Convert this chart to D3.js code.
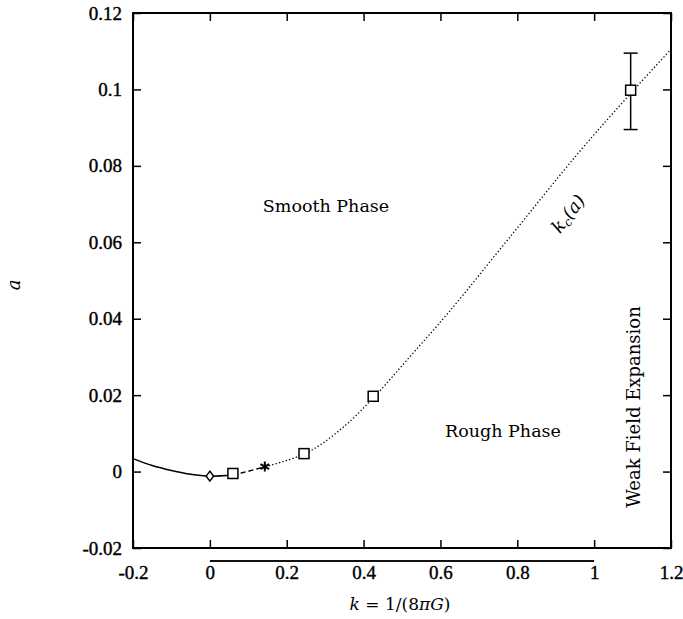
<!DOCTYPE html>
<html>
<head>
<meta charset="utf-8">
<script src="https://cdn.jsdelivr.net/npm/d3@7"></script>
<style>
  body { margin: 0; background: #fff; }
  svg text { font-family: "DejaVu Serif", "Liberation Serif"; fill: #000; }
</style>
</head>
<body>
<div id="container"></div>
<script>
// data
const xTicks = [-0.2, 0, 0.2, 0.4, 0.6, 0.8, 1, 1.2];
const yTicks = [-0.02, 0, 0.02, 0.04, 0.06, 0.08, 0.1, 0.12];

// k_c(a) curve, split by line style
const solidK = [-0.2, -0.15, -0.1, -0.05, 0, 0.06];
const solidA = [0.0034, 0.0016, 0.0003, -0.0007, -0.0012, -0.0009];
const dashedK = [0.06, 0.1, 0.145];
const dashedA = [-0.0009, 0.0001, 0.0013];
const dottedK = [0.145, 0.25, 0.34, 0.43, 0.52, 0.62, 0.79, 0.96, 1.1, 1.2];
const dottedA = [0.0013, 0.0048, 0.011, 0.0198, 0.03, 0.0415, 0.0625, 0.0835, 0.0995, 0.1105];

// measured points
const squareK = [0.06, 0.245, 0.425, 1.095];
const squareA = [-0.0005, 0.0047, 0.0197, 0.0998];
const diamondK = [0];
const diamondA = [-0.0012];
const starK = [0.143];
const starA = [0.0013];
const errK = [1.095];
const errLo = [0.0895];
const errHi = [0.1095];

const margin = {top: 13, right: 12, bottom: 71, left: 133};
const W = 683, H = 619;
const width = W - margin.left - margin.right,
      height = H - margin.top - margin.bottom;

const svg = d3.select("#container").append("svg")
    .attr("width", W).attr("height", H);
const g = svg.append("g").attr("transform", `translate(${margin.left},${margin.top})`);

const x = d3.scaleLinear().domain([-0.2, 1.2]).range([0, width]);
const y = d3.scaleLinear().domain([-0.02, 0.12]).range([height, 0]);

const fmt = d => d === 0 ? "0" : String(+d.toFixed(2));

// axes, ticks pointing inwards
const xb = g.append("g").attr("transform", `translate(0,${height})`)
    .call(d3.axisBottom(x).tickValues(xTicks).tickSize(-8).tickPadding(18).tickFormat(fmt));
const xt = g.append("g")
    .call(d3.axisTop(x).tickValues(xTicks).tickSize(-8).tickFormat(""));
const yl = g.append("g")
    .call(d3.axisLeft(y).tickValues(yTicks).tickSize(-8).tickPadding(11).tickFormat(fmt));
const yr = g.append("g").attr("transform", `translate(${width},0)`)
    .call(d3.axisRight(y).tickValues(yTicks).tickSize(-8).tickFormat(""));

[xb, xt, yl, yr].forEach(a => {
  a.attr("font-family", null);
  a.select(".domain").remove();
  a.selectAll("line").attr("stroke", "#000").attr("stroke-width", 1.5);
  a.selectAll("text").style("font-size", "19px").style("font-family", "\"Liberation Serif\"")
      .attr("stroke", "#000").attr("stroke-width", 0.4);
});

g.append("rect").attr("width", width).attr("height", height)
    .attr("fill", "none").attr("stroke", "#000").attr("stroke-width", 2);

// the scan's rule under the axis
g.append("line")
    .attr("x1", x(0)).attr("x2", x(1))
    .attr("y1", height + 13).attr("y2", height + 13)
    .attr("stroke", "#111").attr("stroke-width", 2);

const line = d3.line().x(d => x(d[0])).y(d => y(d[1])).curve(d3.curveCatmullRom.alpha(0.5));

g.append("path").datum(d3.zip(solidK, solidA)).attr("d", line)
    .attr("fill", "none").attr("stroke", "#000").attr("stroke-width", 1.5);
g.append("path").datum(d3.zip(dashedK, dashedA)).attr("d", line)
    .attr("fill", "none").attr("stroke", "#000").attr("stroke-width", 1.5)
    .attr("stroke-dasharray", "5,3");
g.append("path").datum(d3.zip(dottedK, dottedA)).attr("d", line)
    .attr("fill", "none").attr("stroke", "#000").attr("stroke-width", 1.3)
    .attr("stroke-dasharray", "1.3,2.2");

// error bar
errK.forEach((k, i) => {
  const eg = g.append("g").attr("stroke", "#000").attr("stroke-width", 1.5);
  eg.append("line").attr("x1", x(k)).attr("x2", x(k)).attr("y1", y(errLo[i])).attr("y2", y(errHi[i]));
  eg.append("line").attr("x1", x(k) - 7).attr("x2", x(k) + 7).attr("y1", y(errLo[i])).attr("y2", y(errLo[i]));
  eg.append("line").attr("x1", x(k) - 7).attr("x2", x(k) + 7).attr("y1", y(errHi[i])).attr("y2", y(errHi[i]));
});

// markers
g.selectAll(".sq").data(d3.zip(squareK, squareA)).join("rect")
    .attr("x", d => x(d[0]) - 5).attr("y", d => y(d[1]) - 5)
    .attr("width", 10).attr("height", 10)
    .attr("fill", "#fff").attr("stroke", "#000").attr("stroke-width", 1.5);
g.selectAll(".dm").data(d3.zip(diamondK, diamondA)).join("path")
    .attr("d", d3.symbol(d3.symbolDiamond, 40))
    .attr("transform", d => `translate(${x(d[0])},${y(d[1])}) scale(1.1,0.85)`)
    .attr("fill", "#fff").attr("stroke", "#000").attr("stroke-width", 1.4);
g.selectAll(".st").data(d3.zip(starK, starA)).join("path")
    .attr("d", d3.symbol(d3.symbolAsterisk, 70))
    .attr("transform", d => `translate(${x(d[0])},${y(d[1])})`)
    .attr("fill", "none").attr("stroke", "#000").attr("stroke-width", 2);

// annotations
g.append("text").attr("x", 326 - margin.left).attr("y", 212 - margin.top)
    .attr("text-anchor", "middle").style("font-size", "17.5px").text("Smooth Phase");
g.append("text").attr("x", 503 - margin.left).attr("y", 437 - margin.top)
    .attr("text-anchor", "middle").style("font-size", "17.5px").text("Rough Phase");
g.append("text")
    .attr("transform", `translate(${640 - margin.left},${407 - margin.top}) rotate(-90)`)
    .attr("text-anchor", "middle").style("font-size", "18px").text("Weak Field Expansion");
const kc = g.append("text")
    .attr("transform", `translate(${x(0.945)},${y(0.0665)}) rotate(-52)`)
    .attr("text-anchor", "middle").style("font-size", "18px").style("font-style", "italic");
kc.append("tspan").text("k");
kc.append("tspan").attr("baseline-shift", "-25%").style("font-size", "12px").text("c");
kc.append("tspan").text("(a)");

// axis titles
const xt2 = svg.append("text").attr("x", 400).attr("y", 610)
    .attr("text-anchor", "middle").style("font-size", "17px");
xt2.append("tspan").style("font-style", "italic").text("k");
xt2.append("tspan").text(" = 1/(8");
xt2.append("tspan").style("font-style", "italic").text("πG");
xt2.append("tspan").text(")");

svg.append("text").attr("transform", "translate(20,285) rotate(-90)")
    .attr("text-anchor", "middle").style("font-size", "18px").style("font-style", "italic").text("a");
</script>
</body>
</html>
